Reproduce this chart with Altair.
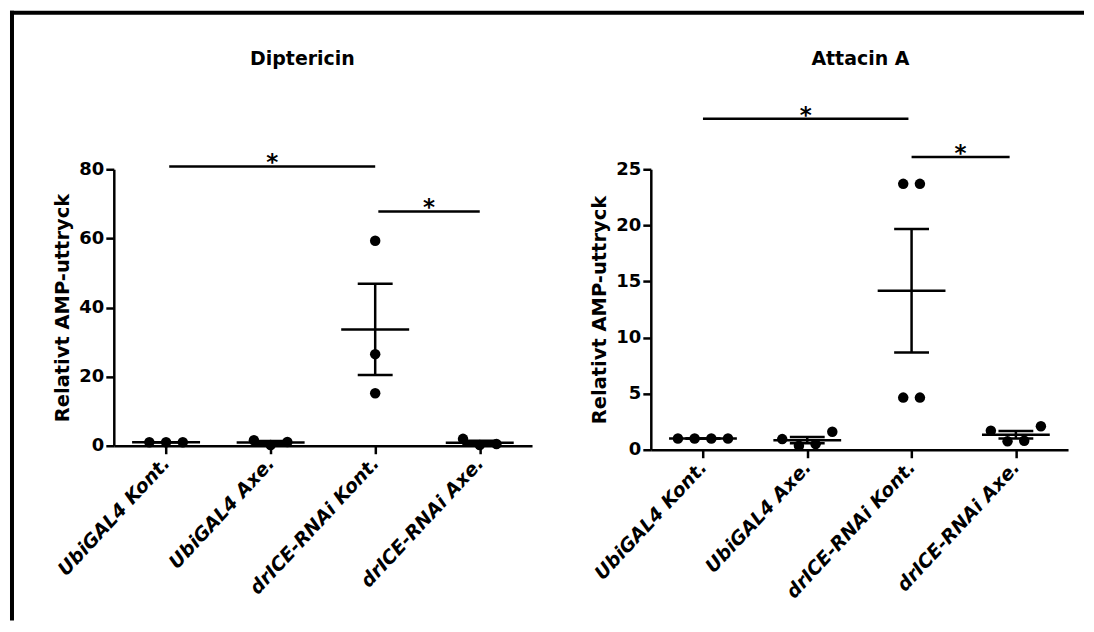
import altair as alt
import pandas as pd

# ---------------- data ----------------
categories = ["UbiGAL4 Kont.", "UbiGAL4 Axe.", "drICE-RNAi Kont.", "drICE-RNAi Axe."]

# Diptericin replicate values per group
dip_ubi_kont = [1.0, 1.0, 1.0]
dip_ubi_axe = [1.6, 0.2, 1.1]
dip_drice_kont = [59.3, 26.5, 15.2]
dip_drice_axe = [2.0, 0.2, 0.5]
# horizontal dodge slot of each replicate (scatter-dot spreading)
dip_slots = [[-1, 0, 1], [-1, 0, 1], [0, 0, 0], [-1, 0, 1]]

# Attacin A replicate values per group
att_ubi_kont = [1.0, 1.0, 1.0, 1.0]
att_ubi_axe = [0.95, 0.35, 0.5, 1.6]
att_drice_kont = [23.7, 23.7, 4.65, 4.65]
att_drice_axe = [1.7, 0.75, 0.8, 2.1]
att_slots = [[-1.5, -0.5, 0.5, 1.5], [-1.5, -0.5, 0.5, 1.5],
             [-0.5, 0.5, -0.5, 0.5], [-1.5, -0.5, 0.5, 1.5]]

# significance brackets (group index from/to, height in data units)
sig_label = ["*", "*"]
dip_sig_from = [0.03, 2.03]
dip_sig_to = [2.0, 3.0]
dip_sig_y = [80.8, 67.8]
att_sig_from = [0.0, 2.0]
att_sig_to = [1.97, 2.94]
att_sig_y = [29.5, 26.1]

dip_ticks = [0, 20, 40, 60, 80]
att_ticks = [0, 5, 10, 15, 20, 25]

# ---------------- style ----------------
FONT = "DejaVu Sans"
SLOT_STEP = 0.16
MEAN_HALF = 0.325
CAP_HALF = 0.167
LW = 2.5


def panel(title, groups, slots, sig_from, sig_to, sig_y, yticks, width, height,
          title_x, border=False):
    rows = []
    for i, (vals, sl) in enumerate(zip(groups, slots)):
        for v, s in zip(vals, sl):
            rows.append({"idx": i, "value": v, "slot": s})
    df = pd.DataFrame(rows)
    sig = pd.DataFrame({"x1": sig_from, "x2": sig_to, "y": sig_y, "label": sig_label})

    label_expr = "[" + ",".join("'" + c + "'" for c in categories) + "][datum.value]"
    xscale = alt.Scale(domain=[-0.5, 3.5], nice=False, zero=False)
    yscale = alt.Scale(domain=[yticks[0], yticks[-1]], nice=False, zero=True)
    xaxis = alt.Axis(values=[0, 1, 2, 3], labelExpr=label_expr, labelAngle=-47,
                     labelAlign="right", labelBaseline="middle", labelFont=FONT,
                     labelFontWeight="bold", labelFontStyle="italic", labelFontSize=19,
                     labelColor="black", labelPadding=6, labelOverlap=False,
                     labelBound=False, labelFlush=False, title=None, grid=False,
                     domainColor="black", domainWidth=LW, tickColor="black",
                     tickWidth=LW, tickSize=8)
    yaxis = alt.Axis(values=yticks, title="Relativt AMP-uttryck", titleFont=FONT,
                     titleFontWeight="bold", titleFontSize=19.5, titleColor="black",
                     titlePadding=6, labelFont=FONT, labelFontWeight="bold",
                     labelFontSize=18, labelColor="black", labelPadding=2, grid=False,
                     labelOverlap=False, labelFlush=False,
                     domainColor="black", domainWidth=LW, tickColor="black",
                     tickWidth=LW, tickSize=8)

    def X(f):
        return alt.X(f, scale=xscale, axis=xaxis)

    def Y(f):
        return alt.Y(f, scale=yscale, axis=yaxis)

    base = alt.Chart(df)
    stats = base.transform_aggregate(
        mean="mean(value)", sem="stderr(value)", groupby=["idx"]
    ).transform_calculate(
        lo="datum.mean - datum.sem",
        hi="datum.mean + datum.sem",
        m1=f"datum.idx - {MEAN_HALF}",
        m2=f"datum.idx + {MEAN_HALF}",
        c1=f"datum.idx - {CAP_HALF}",
        c2=f"datum.idx + {CAP_HALF}",
    )
    mean_rule = stats.mark_rule(color="black", strokeWidth=LW).encode(
        x=X("m1:Q"), x2="m2:Q", y=Y("mean:Q"))
    sem_rule = stats.mark_rule(color="black", strokeWidth=LW).encode(
        x=X("idx:Q"), y=Y("lo:Q"), y2="hi:Q")
    cap_hi = stats.mark_rule(color="black", strokeWidth=LW).encode(
        x=X("c1:Q"), x2="c2:Q", y=Y("hi:Q"))
    cap_lo = stats.mark_rule(color="black", strokeWidth=LW).encode(
        x=X("c1:Q"), x2="c2:Q", y=Y("lo:Q"))
    points = base.transform_calculate(
        xpos=f"datum.idx + datum.slot * {SLOT_STEP}"
    ).mark_circle(size=110, color="black", opacity=1).encode(
        x=X("xpos:Q"), y=Y("value:Q"))

    sbase = alt.Chart(sig)
    sig_rules = sbase.mark_rule(color="black", strokeWidth=LW, clip=False).encode(
        x=X("x1:Q"), x2="x2:Q", y=Y("y:Q"))
    stars = sbase.transform_calculate(xm="(datum.x1 + datum.x2) / 2").mark_text(
        font=FONT, fontSize=23, fontWeight="bold", color="black", fill="black",
        baseline="alphabetic", dy=4
    ).encode(x=X("xm:Q"), y=Y("y:Q"), text="label:N")

    one = alt.Chart(pd.DataFrame({"a": [0]}))
    title_mark = one.mark_text(
        font=FONT, fontSize=19, fontWeight="bold", color="black", align="center",
        baseline="alphabetic"
    ).encode(x=alt.value(title_x), y=alt.value(-104.7), text=alt.value(title))

    layers = [mean_rule, sem_rule, cap_hi, cap_lo, sig_rules, stars, points, title_mark]
    if border:
        left_line = one.mark_rule(color="black", strokeWidth=4, strokeCap="butt").encode(
            x=alt.value(-102), y=alt.value(-158.7), y2=alt.value(452))
        top_line = one.mark_rule(color="black", strokeWidth=4, strokeCap="butt").encode(
            x=alt.value(-104), x2=alt.value(972), y=alt.value(-156.7))
        layers += [left_line, top_line]

    return alt.layer(*layers).properties(width=width, height=height)


left = panel("Diptericin", [dip_ubi_kont, dip_ubi_axe, dip_drice_kont, dip_drice_axe],
             dip_slots, dip_sig_from, dip_sig_to, dip_sig_y, dip_ticks, 419, 277, 189,
             border=True)
right = panel("Attacin A", [att_ubi_kont, att_ubi_axe, att_drice_kont, att_drice_axe],
              att_slots, att_sig_from, att_sig_to, att_sig_y, att_ticks, 418, 281, 210)

chart = alt.hconcat(left, right, spacing=119, bounds="flush").properties(
    padding=0, background="white"
).configure_view(stroke=None)

chart.save("out.html", embed_options={"renderer": "svg", "actions": False})
